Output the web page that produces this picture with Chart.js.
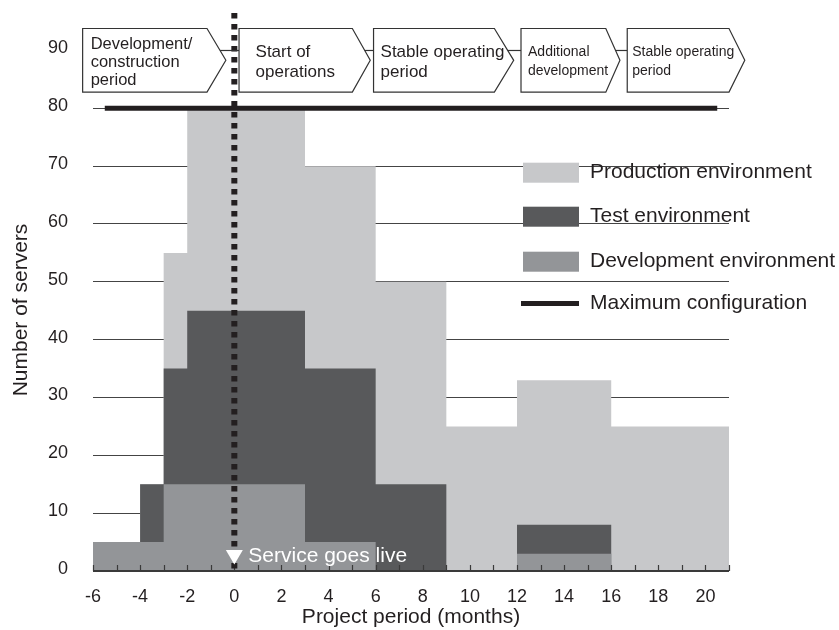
<!DOCTYPE html>
<html><head><meta charset="utf-8">
<script src="https://cdn.jsdelivr.net/npm/chart.js@4/dist/chart.umd.min.js"></script>
<style>html,body{margin:0;padding:0;background:#fff;}#wrap{width:839px;height:630px;position:relative;}</style>
</head><body><div id="wrap"><canvas id="c" width="839" height="630"></canvas></div>
<script>
// ---- data ----
const months = [-6, -4, -3, -2, 3, 6, 9, 12, 16, 21];
const developmentServers = [5, 5, 15, 15, 5, 0, 0, 3, 0, 0];
const testServers        = [0, 10, 20, 30, 30, 15, 0, 5, 0, 0];
const productionServers  = [0, 0, 20, 35, 35, 35, 25, 25, 25, 25];
const maxConfigMonths  = [-5.5, 20.5];
const maxConfigServers = [80, 80];
const seriesNames = ['Maximum configuration', 'Development environment', 'Test environment', 'Production environment'];
const xTitle = 'Project period (months)';
const yTitle = 'Number of servers';
const serviceLiveMonth = 0;
const serviceLiveLabel = 'Service goes live';
const phaseLabels = [
  ['Development/', 'construction', 'period'],
  ['Start of', 'operations'],
  ['Stable operating', 'period'],
  ['Additional', 'development'],
  ['Stable operating', 'period']
];
// phase arrow geometry (in months / servers units)
const phaseFrom = [-6.44, 0.20, 5.91, 12.17, 16.68];
const phaseTo   = [-1.16, 5.01, 11.04, 15.77, 21.0];
const phaseTip  = [-0.36, 5.77, 11.86, 16.37, 21.67];
const phaseTop = 93.8, phaseBottom = 82.8;
const phaseFont = [16.5, 17, 17, 14, 14];
const phaseLineH = [18, 20, 20, 19, 19];
const phasePadX = [8, 16.5, 7, 7, 5];

const FONT = '"Liberation Sans", Arial, Helvetica, sans-serif';
const INK = '#231f20';
const C_PROD = '#c7c8ca', C_TEST = '#58595b', C_DEV = '#939598';

const pts = (xs, ys) => xs.map((m, i) => ({x: m, y: ys[i]}));

const decor = {
  id: 'decor',
  afterDatasetsDraw(chart) {
    const {ctx, scales: {x, y}} = chart;
    const y0 = y.getPixelForValue(0);
    ctx.save();
    // x axis line and inward month ticks
    ctx.strokeStyle = '#3a3a3a';
    ctx.lineWidth = 2;
    ctx.beginPath(); ctx.moveTo(x.left, y0); ctx.lineTo(x.right, y0); ctx.stroke();
    ctx.lineWidth = 1.2;
    ctx.beginPath();
    for (let m = x.min; m <= x.max; m++) {
      const px = Math.round(x.getPixelForValue(m)) + 0.5;
      ctx.moveTo(px, y0); ctx.lineTo(px, y0 - 6);
    }
    ctx.stroke();
    // dotted "go live" line
    const px0 = x.getPixelForValue(serviceLiveMonth);
    ctx.strokeStyle = INK; ctx.lineWidth = 6; ctx.setLineDash([5.5, 5.5]);
    ctx.beginPath(); ctx.moveTo(px0, y.top + 3); ctx.lineTo(px0, y0); ctx.stroke();
    ctx.setLineDash([]);
    // white triangle + label
    ctx.fillStyle = '#fff';
    ctx.beginPath();
    ctx.moveTo(px0 - 8.5, y0 - 21); ctx.lineTo(px0 + 8.5, y0 - 21); ctx.lineTo(px0, y0 - 6.5); ctx.closePath(); ctx.fill();
    ctx.font = '21px ' + FONT; ctx.textBaseline = 'middle'; ctx.textAlign = 'left';
    ctx.fillText(serviceLiveLabel, px0 + 14, y0 - 15);
    // phase arrows
    const yt = y.getPixelForValue(phaseTop), yb = y.getPixelForValue(phaseBottom);
    const ym = (yt + yb) / 2;
    const yc = y.getPixelForValue(90);
    ctx.strokeStyle = '#333'; ctx.lineWidth = 1.2;
    for (let i = 0; i < phaseLabels.length; i++) {
      const l = x.getPixelForValue(phaseFrom[i]), r = x.getPixelForValue(phaseTo[i]), t = x.getPixelForValue(phaseTip[i]);
      ctx.beginPath();
      ctx.moveTo(l, yt); ctx.lineTo(r, yt); ctx.lineTo(t, ym); ctx.lineTo(r, yb); ctx.lineTo(l, yb); ctx.closePath();
      ctx.fillStyle = '#fff'; ctx.fill(); ctx.stroke();
      if (i < phaseLabels.length - 1) {
        const f = (yc - yt) / (ym - yt);
        const sx = r + f * (t - r);
        const nl = x.getPixelForValue(phaseFrom[i + 1]);
        ctx.beginPath(); ctx.moveTo(sx, yc); ctx.lineTo(nl, yc); ctx.stroke();
      }
      const lines = phaseLabels[i];
      ctx.fillStyle = INK; ctx.font = phaseFont[i] + 'px ' + FONT;
      const lh = phaseLineH[i];
      const start = ym + 1.7 - (lines.length - 1) * lh / 2;
      lines.forEach((s, k) => ctx.fillText(s, l + phasePadX[i], start + k * lh));
    }
    // y axis title
    ctx.save();
    ctx.translate(21, 310);
    ctx.rotate(-Math.PI / 2);
    ctx.font = '21px ' + FONT; ctx.textAlign = 'center'; ctx.textBaseline = 'middle';
    ctx.fillStyle = INK;
    ctx.fillText(yTitle, 0, 0);
    ctx.restore();
    ctx.restore();
  },
  afterDraw(chart) {
    const {ctx} = chart;
    const ds = chart.data.datasets;
    const order = [3, 2, 1, 0];
    const rowsY = [172.7, 216.7, 261.7, 303.5];
    ctx.save();
    ctx.font = '21px ' + FONT; ctx.textBaseline = 'middle'; ctx.textAlign = 'left';
    order.forEach((di, k) => {
      const d = ds[di];
      const cy = rowsY[k];
      if (di === 0) {
        ctx.fillStyle = d.borderColor; ctx.fillRect(521, cy - 2.5, 58, 5);
      } else {
        ctx.fillStyle = d.backgroundColor; ctx.fillRect(523, cy - 10, 56, 20);
      }
      ctx.fillStyle = INK; ctx.fillText(d.label, 590, cy);
    });
    ctx.restore();
  }
};

new Chart(document.getElementById('c'), {
  type: 'line',
  data: {
    datasets: [
      { label: seriesNames[0], data: pts(maxConfigMonths, maxConfigServers), stack: 'max',
        borderColor: INK, borderWidth: 5, pointRadius: 0, fill: false, borderCapStyle: 'butt' },
      { label: seriesNames[1], data: pts(months, developmentServers), stack: 'env',
        backgroundColor: C_DEV, borderColor: 'rgba(0,0,0,0)', borderWidth: 1, pointRadius: 0, stepped: 'before', fill: 'origin' },
      { label: seriesNames[2], data: pts(months, testServers), stack: 'env',
        backgroundColor: C_TEST, borderColor: 'rgba(0,0,0,0)', borderWidth: 1, pointRadius: 0, stepped: 'before', fill: 'origin' },
      { label: seriesNames[3], data: pts(months, productionServers), stack: 'env',
        backgroundColor: C_PROD, borderColor: 'rgba(0,0,0,0)', borderWidth: 1, pointRadius: 0, stepped: 'before', fill: 'origin' }
    ]
  },
  options: {
    responsive: false, animation: false, devicePixelRatio: 1,
    layout: { padding: { top: 10, right: 110, bottom: 0, left: 0 } },
    plugins: { legend: { display: false }, tooltip: { enabled: false } },
    elements: { line: { tension: 0 } },
    scales: {
      x: {
        type: 'linear', min: -6, max: 21,
        grid: { display: false }, border: { display: false },
        ticks: { stepSize: 2, includeBounds: false, color: INK, font: { family: FONT, size: 18 }, padding: 7, maxRotation: 0 },
        title: { display: true, text: xTitle, color: INK, font: { family: FONT, size: 21 }, padding: { top: 0, bottom: 0 } },
        afterFit(s) { s.height = 59; s.paddingLeft = 0; s.paddingRight = 0; }
      },
      y: {
        type: 'linear', min: 0, max: 97, stacked: true,
        grid: { drawTicks: false, lineWidth: 1, color: c => (c.tick && c.tick.value >= 10 && c.tick.value <= 80) ? '#444' : 'rgba(0,0,0,0)' },
        border: { display: false },
        ticks: { stepSize: 10, includeBounds: false, color: INK, font: { family: FONT, size: 18 }, padding: 25, labelOffset: -2 },
        title: { display: false },
        afterFit(s) { s.width = 93; s.paddingTop = 0; s.paddingBottom = 0; }
      }
    }
  },
  plugins: [decor]
});
</script></body></html>
